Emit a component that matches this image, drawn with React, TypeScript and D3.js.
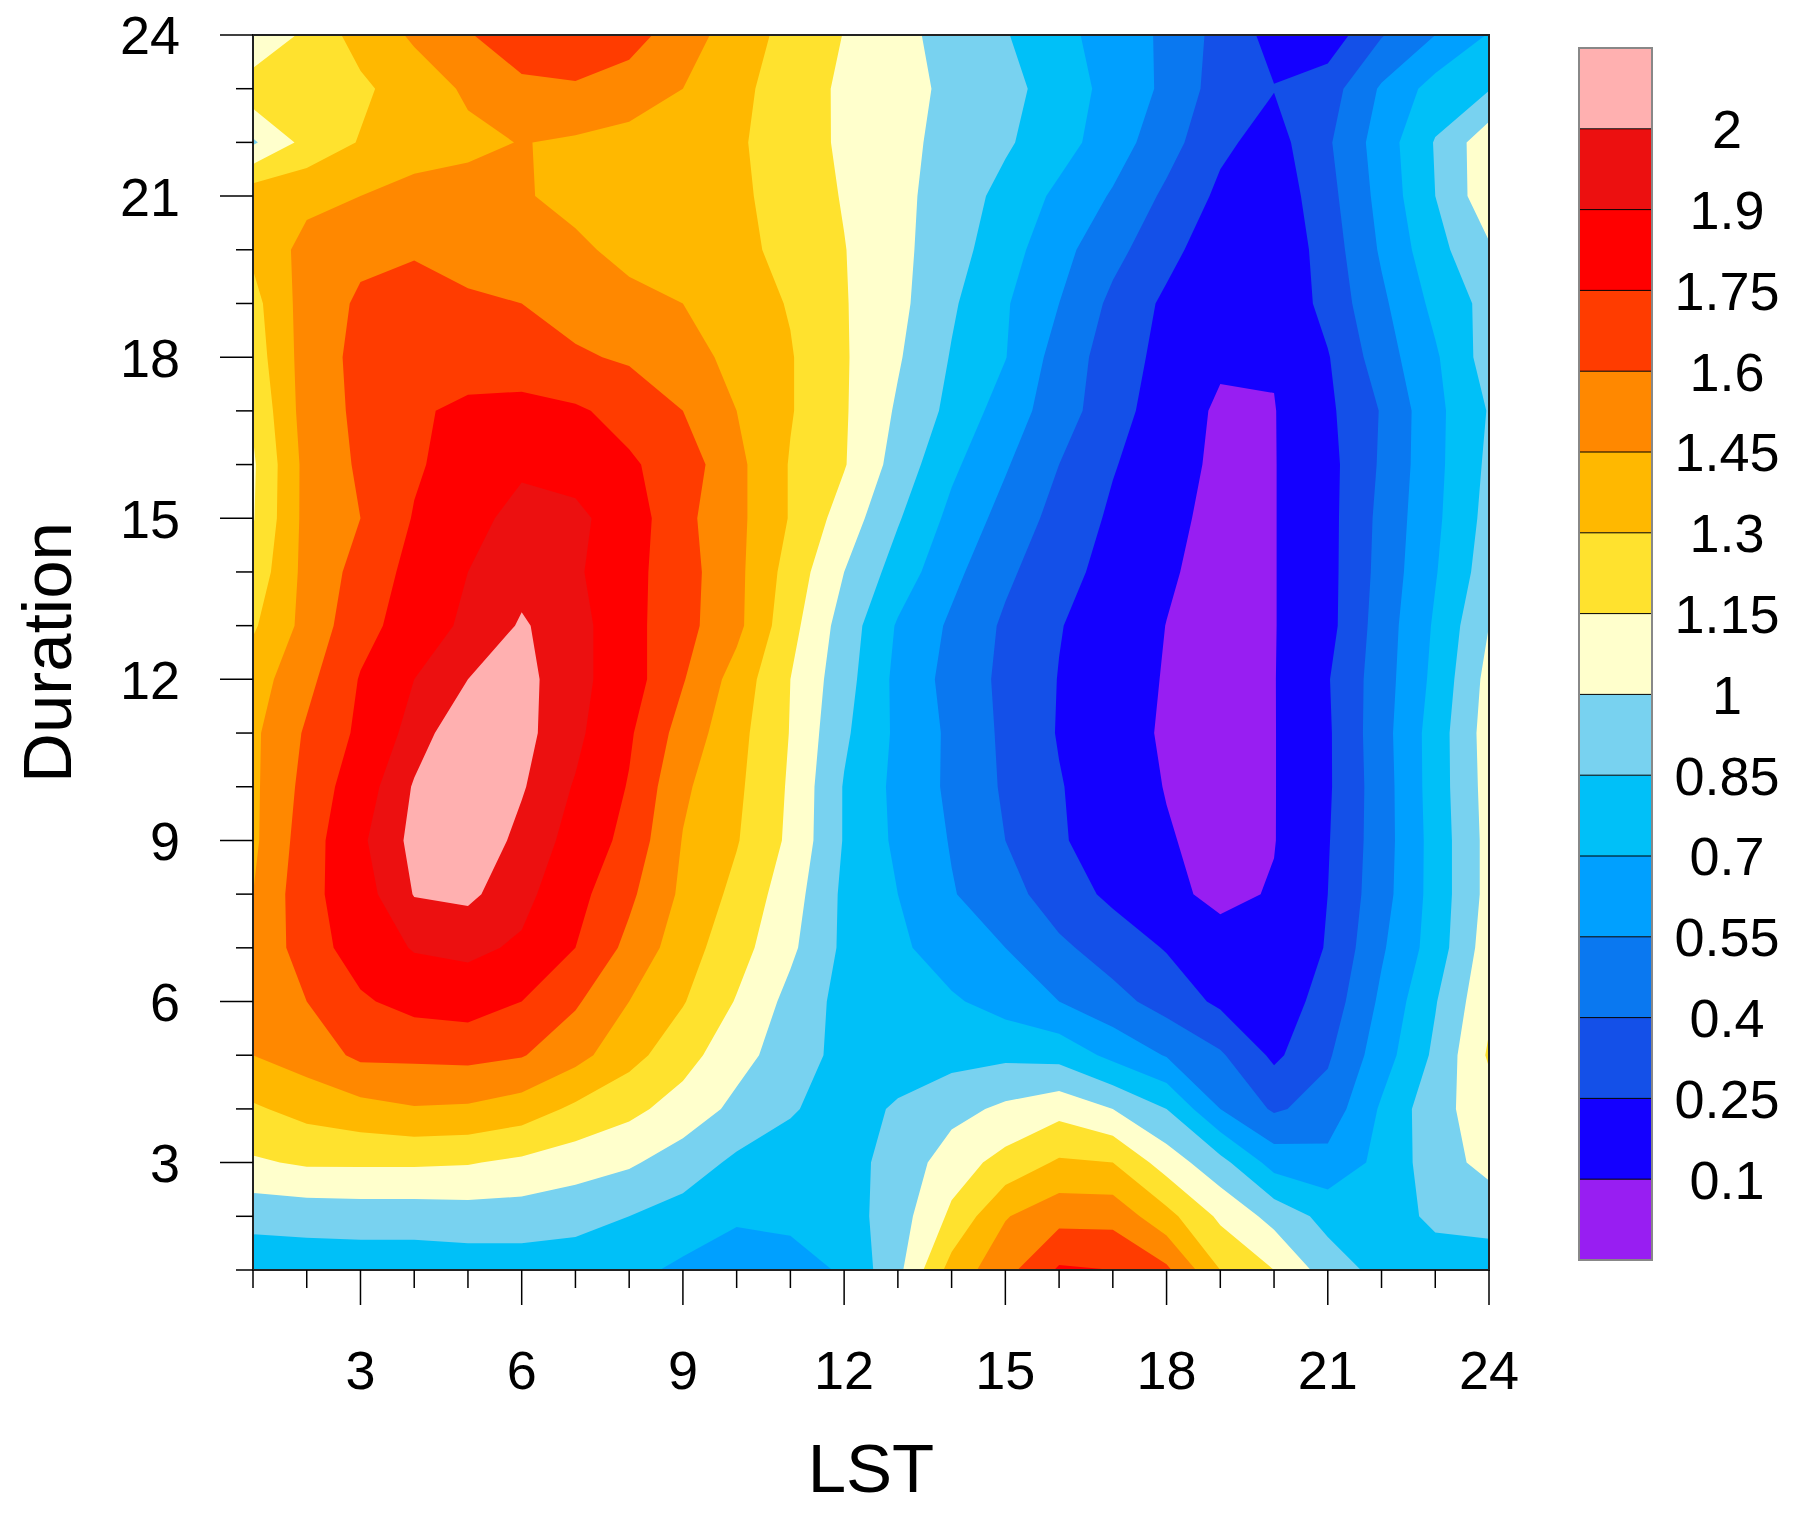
import React, { useMemo } from "react";
import * as d3 from "d3";

// LST (x) and Duration (y) grid hours
const lstHours = [1, 2, 3, 4, 5, 6, 7, 8, 9, 10, 11, 12, 13, 14, 15, 16, 17, 18, 19, 20, 21, 22, 23, 24];
const durationHours = [24, 23, 22, 21, 20, 19, 18, 17, 16, 15, 14, 13, 12, 11, 10, 9, 8, 7, 6, 5, 4, 3, 2, 1];

// one row of values per Duration, LST 1..24 left to right
const dur24 = [0.99, 1.19, 1.36, 1.47, 1.59, 1.68, 1.72, 1.66, 1.52, 1.38, 1.25, 1.146, 1.04, 0.95, 0.86, 0.74, 0.64, 0.52, 0.35, 0.2, 0.16, 0.39, 0.55, 0.71];
const dur23 = [1.25, 1.22, 1.27, 1.38, 1.47, 1.57, 1.58, 1.53, 1.45, 1.34, 1.225, 1.125, 1.05, 0.97, 0.9, 0.78, 0.65, 0.52, 0.33, 0.255, 0.33, 0.57, 0.76, 0.84];
const dur22 = [0.98, 1.2, 1.31, 1.38, 1.42, 1.455, 1.43, 1.4, 1.37, 1.32, 1.227, 1.125, 1.04, 0.956, 0.87, 0.76, 0.62, 0.46, 0.28, 0.19, 0.38, 0.62, 0.86, 1.1];
const dur21 = [1.4, 1.41, 1.45, 1.5, 1.5, 1.46, 1.42, 1.38, 1.35, 1.33, 1.236, 1.14, 1.04, 0.93, 0.805, 0.667, 0.535, 0.37, 0.22, 0.15, 0.35, 0.6, 0.85, 1.1];
const dur20 = [1.33, 1.5, 1.57, 1.58, 1.55, 1.52, 1.47, 1.42, 1.36, 1.34, 1.256, 1.155, 1.04, 0.91, 0.763, 0.6, 0.445, 0.3, 0.15, 0.12, 0.32, 0.57, 0.8, 0.98];
const dur19 = [1.25, 1.52, 1.62, 1.68, 1.62, 1.6, 1.54, 1.48, 1.45, 1.37, 1.29, 1.16, 1.04, 0.87, 0.715, 0.55, 0.366, 0.22, 0.13, 0.12, 0.3, 0.52, 0.74, 0.9];
const dur18 = [1.22, 1.52, 1.64, 1.7, 1.68, 1.66, 1.62, 1.58, 1.5, 1.415, 1.31, 1.165, 1.015, 0.84, 0.705, 0.488, 0.33, 0.2, 0.12, 0.11, 0.24, 0.48, 0.68, 0.92];
const dur17 = [1.17, 1.52, 1.63, 1.73, 1.78, 1.8, 1.77, 1.7, 1.6, 1.45, 1.31, 1.165, 0.98, 0.81, 0.63, 0.47, 0.31, 0.17, 0.08, 0.095, 0.22, 0.41, 0.66, 0.86];
const dur16 = [1.13, 1.5, 1.62, 1.73, 1.82, 1.88, 1.85, 1.77, 1.68, 1.49, 1.29, 1.16, 0.94, 0.73, 0.565, 0.4, 0.26, 0.16, 0.07, 0.095, 0.2, 0.42, 0.66, 0.88];
const dur15 = [1.14, 1.5, 1.6, 1.76, 1.86, 1.94, 1.93, 1.83, 1.64, 1.49, 1.29, 1.085, 0.864, 0.66, 0.497, 0.347, 0.226, 0.136, 0.06, 0.095, 0.2, 0.44, 0.67, 0.9];
const dur14 = [1.2, 1.5, 1.65, 1.8, 1.9, 1.97, 1.92, 1.8, 1.66, 1.49, 1.24, 1.0, 0.785, 0.59, 0.43, 0.3, 0.2, 0.117, 0.05, 0.095, 0.2, 0.45, 0.69, 0.93];
const dur13 = [1.28, 1.5, 1.7, 1.82, 1.93, 2.01, 1.95, 1.8, 1.65, 1.49, 1.2, 0.935, 0.684, 0.525, 0.376, 0.257, 0.175, 0.098, 0.04, 0.095, 0.2, 0.47, 0.72, 1.0];
const dur12 = [1.38, 1.56, 1.76, 1.9, 2.0, 2.03, 1.94, 1.82, 1.61, 1.39, 1.15, 0.91, 0.66, 0.5, 0.364, 0.245, 0.167, 0.09, 0.04, 0.095, 0.24, 0.48, 0.74, 1.05];
const dur11 = [1.42, 1.62, 1.78, 1.95, 2.08, 2.03, 1.93, 1.77, 1.54, 1.35, 1.144, 0.875, 0.67, 0.52, 0.37, 0.24, 0.15, 0.085, 0.04, 0.095, 0.23, 0.49, 0.77, 1.07];
const dur10 = [1.42, 1.65, 1.84, 2.01, 2.1, 2.01, 1.89, 1.74, 1.476, 1.33, 1.13, 0.84, 0.66, 0.52, 0.38, 0.26, 0.16, 0.095, 0.05, 0.095, 0.23, 0.48, 0.77, 1.06];
const dur9 = [1.42, 1.68, 1.88, 2.03, 2.08, 1.97, 1.86, 1.7, 1.443, 1.31, 1.12, 0.84, 0.67, 0.54, 0.4, 0.27, 0.16, 0.11, 0.06, 0.095, 0.24, 0.48, 0.76, 1.05];
const dur8 = [1.45, 1.7, 1.85, 2.005, 2.02, 1.94, 1.8, 1.63, 1.42, 1.26, 1.07, 0.82, 0.7, 0.56, 0.46, 0.32, 0.22, 0.13, 0.07, 0.11, 0.25, 0.49, 0.76, 1.05];
const dur7 = [1.47, 1.68, 1.82, 1.91, 1.93, 1.88, 1.75, 1.56, 1.367, 1.21, 1.03, 0.82, 0.73, 0.62, 0.55, 0.43, 0.33, 0.24, 0.15, 0.14, 0.26, 0.53, 0.77, 1.08];
const dur6 = [1.5, 1.6, 1.73, 1.8, 1.82, 1.75, 1.62, 1.45, 1.31, 1.14, 0.955, 0.8, 0.75, 0.72, 0.64, 0.55, 0.45, 0.34, 0.22, 0.165, 0.31, 0.58, 0.84, 1.12];
const dur5 = [1.45, 1.52, 1.63, 1.63, 1.64, 1.61, 1.5, 1.35, 1.21, 1.05, 0.93, 0.8, 0.77, 0.8, 0.82, 0.8, 0.66, 0.54, 0.42, 0.22, 0.38, 0.63, 0.88, 1.17];
const dur4 = [1.28, 1.35, 1.4, 1.44, 1.43, 1.38, 1.27, 1.19, 1.085, 0.965, 0.865, 0.78, 0.87, 0.95, 1.03, 1.1, 1.0, 0.85, 0.55, 0.38, 0.46, 0.72, 0.95, 1.08];
const dur3 = [1.13, 1.17, 1.17, 1.17, 1.16, 1.12, 1.07, 1.02, 0.93, 0.82, 0.78, 0.8, 0.9, 1.08, 1.2, 1.32, 1.3, 1.08, 0.9, 0.64, 0.6, 0.74, 0.93, 1.05];
const dur2 = [0.9, 0.91, 0.92, 0.92, 0.93, 0.93, 0.9, 0.85, 0.79, 0.72, 0.74, 0.78, 0.93, 1.18, 1.44, 1.55, 1.55, 1.35, 1.12, 0.95, 0.8, 0.78, 0.88, 0.9];
const dur1 = [0.75, 0.76, 0.76, 0.76, 0.77, 0.77, 0.77, 0.74, 0.67, 0.62, 0.63, 0.72, 0.96, 1.36, 1.55, 1.77, 1.75, 1.63, 1.3, 1.15, 0.93, 0.8, 0.78, 0.78];

const gridRows = [
  dur24, dur23, dur22, dur21, dur20, dur19, dur18, dur17, dur16, dur15, dur14, dur13,
  dur12, dur11, dur10, dur9, dur8, dur7, dur6, dur5, dur4, dur3, dur2, dur1,
];

const levels = [0.1, 0.25, 0.4, 0.55, 0.7, 0.85, 1, 1.15, 1.3, 1.45, 1.6, 1.75, 1.9, 2];
const levelLabels = ["0.1", "0.25", "0.4", "0.55", "0.7", "0.85", "1", "1.15", "1.3", "1.45", "1.6", "1.75", "1.9", "2"];
// one colour per band, lowest (< 0.1) first
const bandColors = [
  "#981ef2", "#1400ff", "#1450e8", "#0a78f0", "#00a0ff", "#00c0f8", "#78d2f0",
  "#ffffcc", "#ffe22e", "#ffb800", "#ff8800", "#ff3c00", "#ff0000", "#ec1010", "#ffb0b0",
];
const majorTicks = [3, 6, 9, 12, 15, 18, 21, 24];

const W = 1793;
const H = 1517;
const plot = { left: 253, right: 1489, top: 35, bottom: 1270 };
const bar = { left: 1579, width: 73, top: 48, bottom: 1260 };
const font = "'Liberation Sans', Arial, Helvetica, sans-serif";

export default function App() {
  const x = d3.scaleLinear().domain([1, 24]).range([plot.left, plot.right]);
  const y = d3.scaleLinear().domain([1, 24]).range([plot.bottom, plot.top]);
  const ly = d3.scaleLinear().domain([0, bandColors.length]).range([bar.bottom, bar.top]);

  const bands = useMemo(() => {
    const values = gridRows.flat();
    const gen = d3
      .contours()
      .size([lstHours.length, durationHours.length])
      .thresholds(levels);
    // contour coords: grid value i sits at i + 0.5
    const proj = d3.geoTransform({
      point(px, py) {
        const hour = lstHours[0] + px - 0.5;
        const dur = durationHours[0] - (py - 0.5);
        this.stream.point(x(hour), y(dur));
      },
    });
    const path = d3.geoPath(proj);
    return gen(values).map((c, i) => ({ d: path(c), fill: bandColors[i + 1] }));
  }, []);

  return (
    <svg
      width={W}
      height={H}
      style={{ position: "absolute", left: 0, top: 0, background: "#fff" }}
      fontFamily={font}
    >
      <defs>
        <clipPath id="plotClip">
          <rect x={plot.left} y={plot.top} width={plot.right - plot.left} height={plot.bottom - plot.top} />
        </clipPath>
      </defs>

      <g clipPath="url(#plotClip)">
        <rect
          x={plot.left}
          y={plot.top}
          width={plot.right - plot.left}
          height={plot.bottom - plot.top}
          fill={bandColors[0]}
        />
        {bands.map((b, i) => (
          <path key={i} d={b.d} fill={b.fill} fillRule="evenodd" />
        ))}
      </g>

      {/* frame */}
      <rect
        x={plot.left}
        y={plot.top}
        width={plot.right - plot.left}
        height={plot.bottom - plot.top}
        fill="none"
        stroke="#222"
        strokeWidth={2}
      />

      {/* y ticks, outward */}
      {durationHours.map((d) => {
        const major = majorTicks.includes(d);
        return (
          <line
            key={"yt" + d}
            x1={plot.left - (major ? 33 : 17)}
            x2={plot.left}
            y1={y(d)}
            y2={y(d)}
            stroke="#000"
            strokeWidth={1.5}
          />
        );
      })}
      {majorTicks.map((d) => (
        <text key={"yl" + d} x={180} y={y(d)} dy="0.36em" textAnchor="end" fontSize={54}>
          {d}
        </text>
      ))}

      {/* x ticks, outward */}
      {lstHours.map((h) => {
        const major = majorTicks.includes(h);
        return (
          <line
            key={"xt" + h}
            x1={x(h)}
            x2={x(h)}
            y1={plot.bottom}
            y2={plot.bottom + (major ? 35 : 18)}
            stroke="#000"
            strokeWidth={1.5}
          />
        );
      })}
      {majorTicks.map((h) => (
        <text key={"xl" + h} x={x(h)} y={1389} textAnchor="middle" fontSize={54}>
          {h}
        </text>
      ))}

      <text x={(plot.left + plot.right) / 2} y={1492} textAnchor="middle" fontSize={69}>
        LST
      </text>
      <text
        transform={`translate(71,${(plot.top + plot.bottom) / 2}) rotate(-90)`}
        textAnchor="middle"
        fontSize={69}
      >
        Duration
      </text>

      {/* colour bar */}
      {bandColors.map((c, i) => (
        <rect
          key={"lb" + i}
          x={bar.left}
          y={ly(i + 1)}
          width={bar.width}
          height={ly(i) - ly(i + 1)}
          fill={c}
        />
      ))}
      {levels.map((v, i) => (
        <line
          key={"ll" + i}
          x1={bar.left}
          x2={bar.left + bar.width}
          y1={ly(i + 1)}
          y2={ly(i + 1)}
          stroke="#000"
          strokeWidth={1}
        />
      ))}
      <rect
        x={bar.left}
        y={bar.top}
        width={bar.width}
        height={bar.bottom - bar.top}
        fill="none"
        stroke="#888"
        strokeWidth={2}
      />
      {levelLabels.map((t, i) => (
        <text key={"lt" + i} x={1727} y={ly(i + 1)} dy="0.36em" textAnchor="middle" fontSize={54}>
          {t}
        </text>
      ))}
    </svg>
  );
}
